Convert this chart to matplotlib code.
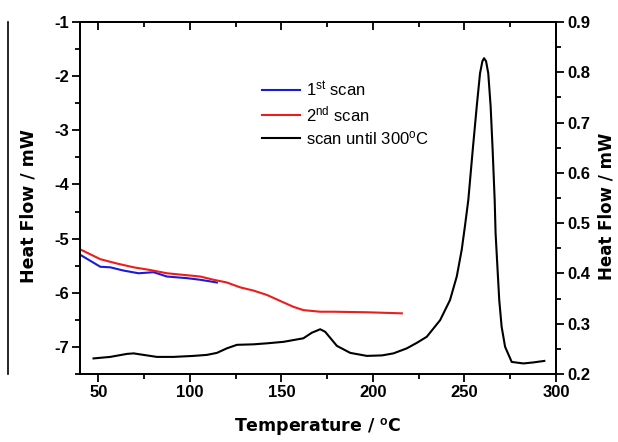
import matplotlib
matplotlib.use("Agg")
import matplotlib.pyplot as plt
from matplotlib.lines import Line2D
from matplotlib.ticker import MultipleLocator

plt.rcParams['font.family'] = ['Liberation Sans', 'DejaVu Sans']
plt.rcParams['mathtext.fontset'] = 'custom'
plt.rcParams['mathtext.rm'] = 'Liberation Sans'
plt.rcParams['mathtext.it'] = 'Liberation Sans'
plt.rcParams['mathtext.bf'] = 'Liberation Sans:bold'
plt.rcParams['axes.unicode_minus'] = False

# First heating scan (left axis, mW)
temp_scan1 = [40.2, 51.1, 56.5, 63.8, 72.0, 80.2, 87.5, 98.4, 105.7, 114.8]
flow_scan1 = [-5.30, -5.52, -5.53, -5.59, -5.64, -5.62, -5.70, -5.73, -5.76, -5.81]

# Second heating scan (left axis, mW)
temp_scan2 = [40.2, 51.1, 60.2, 69.3, 78.4, 87.5, 96.6, 105.7, 113.0, 120.2,
              127.5, 134.8, 142.1, 149.3, 156.6, 162.0, 171.2, 178.4, 196.7, 215.8]
flow_scan2 = [-5.20, -5.38, -5.46, -5.53, -5.58, -5.64, -5.67, -5.70, -5.76, -5.81,
              -5.90, -5.96, -6.04, -6.15, -6.26, -6.32, -6.35, -6.35, -6.36, -6.38]

# Scan up to 300 °C (right axis, mW)
temp_scan3 = [47.4, 56.5, 65.7, 69.3, 74.7, 82.0, 91.1, 102.0, 109.3, 114.8,
              120.2, 125.7, 134.8, 142.1, 151.2, 162.0, 166.6, 171.2, 173.9, 180.3,
              187.6, 196.7, 205.0, 211.2, 218.5, 224.0, 229.4, 236.7, 242.1, 245.8,
              248.5, 250.3, 252.1, 254.5, 256.7, 258.5, 259.8, 260.7, 261.8, 263.0,
              264.3, 265.4, 266.5, 267.0, 268.0, 269.0, 270.3, 272.2, 275.8, 282.2,
              287.6, 293.6]
flow_scan3 = [0.231, 0.234, 0.240, 0.241, 0.238, 0.234, 0.234, 0.236, 0.238, 0.242,
              0.251, 0.258, 0.259, 0.261, 0.264, 0.271, 0.282, 0.289, 0.284, 0.256,
              0.242, 0.236, 0.237, 0.241, 0.251, 0.262, 0.274, 0.307, 0.347, 0.394,
              0.447, 0.495, 0.546, 0.645, 0.732, 0.798, 0.822, 0.828, 0.822, 0.798,
              0.732, 0.645, 0.546, 0.480, 0.413, 0.347, 0.294, 0.254, 0.224, 0.221,
              0.223, 0.226]

legend_labels = [r"1$^{\mathrm{st}}$ scan", r"2$^{\mathrm{nd}}$ scan",
                 r"scan until 300$^{\mathrm{o}}$C"]

fig = plt.figure(figsize=(6.18, 4.42), dpi=100)
ax = fig.add_axes([80 / 618, 1 - 374 / 442, 476 / 618, 352 / 442])
ax2 = ax.twinx()

lw = 1.5
l1, = ax.plot(temp_scan1, flow_scan1, color='#1a1adc', lw=lw)
l2, = ax.plot(temp_scan2, flow_scan2, color='#ee1c1c', lw=lw)
l3, = ax2.plot(temp_scan3, flow_scan3, color='black', lw=lw)

ax.set_xlim(40, 300)
ax.set_ylim(-7.5, -1)
ax2.set_ylim(0.2, 0.9)

ax.xaxis.set_major_locator(MultipleLocator(50))
ax.xaxis.set_minor_locator(MultipleLocator(25))
ax.yaxis.set_major_locator(MultipleLocator(1))
ax.yaxis.set_minor_locator(MultipleLocator(0.5))
ax2.yaxis.set_major_locator(MultipleLocator(0.1))
ax2.yaxis.set_minor_locator(MultipleLocator(0.05))

for a in (ax, ax2):
    for s in a.spines.values():
        s.set_linewidth(1.3)

ax.tick_params(axis='x', which='both', direction='out', top=False)
ax.tick_params(axis='y', which='both', direction='out', right=False)
ax2.tick_params(axis='y', which='both', direction='out')
for a in (ax, ax2):
    a.tick_params(which='major', length=6, width=1.3, labelsize=12, pad=2)
    a.tick_params(which='minor', length=3.5, width=1.3)

# inward ticks along the top edge
top = ax.secondary_xaxis('top')
top.xaxis.set_major_locator(MultipleLocator(50))
top.xaxis.set_minor_locator(MultipleLocator(25))
top.tick_params(which='both', direction='in', labeltop=False, width=1.3)
top.tick_params(which='major', length=6)
top.tick_params(which='minor', length=3.5)
top.spines['top'].set_linewidth(1.3)

for lab in ax.get_xticklabels() + ax.get_yticklabels() + ax2.get_yticklabels():
    lab.set_fontweight('bold')

label_font = dict(family='DejaVu Sans', fontsize=12.5, fontweight='bold')
ax.set_xlabel(r"Temperature / $^{\mathbf{o}}$C", labelpad=12, **label_font)
ax.set_ylabel("Heat Flow / mW", **label_font)
ax2.set_ylabel("Heat Flow / mW", rotation=90, family='DejaVu Sans',
               fontsize=12, fontweight='bold')
ax.yaxis.set_label_coords(-0.090, 0.477)
ax2.yaxis.set_label_coords(1.088, 0.477)

ax.legend([l1, l2, l3], legend_labels, loc='upper left', bbox_to_anchor=(0.368, 0.855),
          frameon=False, fontsize=12, handlelength=2.3, handletextpad=0.35,
          labelspacing=0.3, borderaxespad=0)

# vertical rule at the left edge
fig.add_artist(Line2D([7.5 / 618, 7.5 / 618], [1 - 374 / 442, 1 - 22 / 442],
                      transform=fig.transFigure, color='black', lw=1.2))

fig.savefig("out.png", dpi=100)
